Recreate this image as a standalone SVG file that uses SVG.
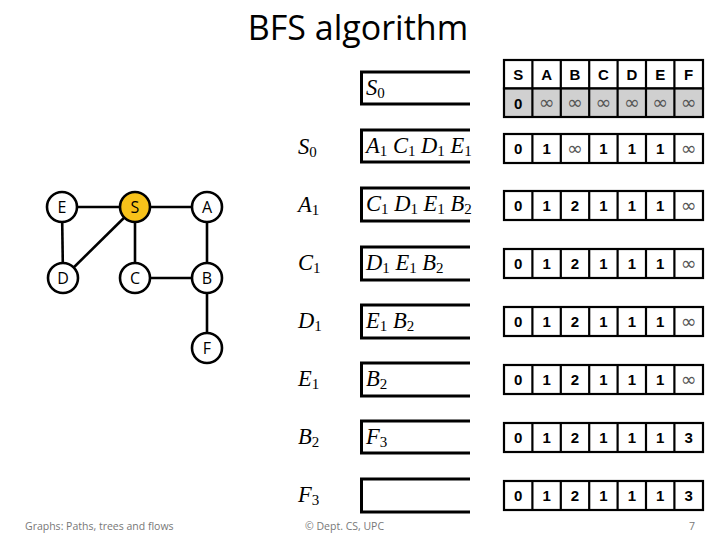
<svg xmlns="http://www.w3.org/2000/svg" width="720" height="540" viewBox="0 0 720 540">
<style>
.title{font-family:"Open Sans","Liberation Sans",sans-serif;font-size:34px;fill:#000}
.node circle{fill:#fff;stroke:#000;stroke-width:2.6}
.node text{font-family:"Open Sans","Liberation Sans",sans-serif;font-size:16px;text-anchor:middle;fill:#000}
.edge{stroke:#000;stroke-width:2.6;fill:none}
.q{fill:none;stroke:#000;stroke-width:3}
.m{font-family:"Liberation Serif","DejaVu Serif",serif;font-style:italic;font-size:22.5px;fill:#000}
.sub{font-size:15px;font-style:normal}
.cell{fill:#fff;stroke:#000;stroke-width:2.2}
.gray{fill:#d0d0d0}
.tv{font-family:"Liberation Sans","DejaVu Sans",sans-serif;font-weight:bold;font-size:15px;text-anchor:middle;fill:#000}
.inf{font-family:"DejaVu Sans",sans-serif;font-size:19px;text-anchor:middle;fill:#555}
.foot{font-family:"Open Sans","Liberation Sans",sans-serif;font-size:10.5px;fill:#777}
</style>
<text class="title" x="358" y="40" text-anchor="middle">BFS algorithm</text>

<g id="connectors">
<line class="edge" x1="62" y1="207" x2="135" y2="207"/>
<line class="edge" x1="135" y1="207" x2="207" y2="207"/>
<line class="edge" x1="62" y1="207" x2="63" y2="278"/>
<line class="edge" x1="135" y1="207" x2="63" y2="278"/>
<line class="edge" x1="135" y1="207" x2="135" y2="278"/>
<line class="edge" x1="135" y1="278" x2="207" y2="278"/>
<line class="edge" x1="207" y1="207" x2="207" y2="278"/>
<line class="edge" x1="207" y1="278" x2="207" y2="348"/>
</g>
<g id="node-E" class="node"><circle cx="62" cy="207" r="15"/><text x="62" y="213">E</text></g>
<g id="node-S" class="node"><circle cx="135" cy="207" r="15" style="fill:#f7c21a"/><text x="135" y="213">S</text></g>
<g id="node-A" class="node"><circle cx="207" cy="207" r="15"/><text x="207" y="213">A</text></g>
<g id="node-D" class="node"><circle cx="63" cy="278" r="15"/><text x="63" y="284">D</text></g>
<g id="node-C" class="node"><circle cx="135" cy="278" r="15"/><text x="135" y="284">C</text></g>
<g id="node-B" class="node"><circle cx="207" cy="278" r="15"/><text x="207" y="284">B</text></g>
<g id="node-F" class="node"><circle cx="207" cy="348" r="15"/><text x="207" y="354">F</text></g>

<g id="queues">
<path class="q" d="M470,72 H361.5 V104 H470"/>
<path class="q" d="M470,130 H361.5 V162 H470"/>
<path class="q" d="M470,188 H361.5 V221 H470"/>
<path class="q" d="M470,247 H361.5 V280 H470"/>
<path class="q" d="M470,305 H361.5 V338 H470"/>
<path class="q" d="M470,363 H361.5 V396 H470"/>
<path class="q" d="M470,421 H361.5 V453 H470"/>
<path class="q" d="M470,479 H361.5 V512 H470"/>
<text class="m" x="366" y="95">S<tspan class="sub" dy="3">0</tspan></text>
<text class="m" x="366" y="153">A<tspan class="sub" dy="3">1</tspan><tspan dy="-3"> C</tspan><tspan class="sub" dy="3">1</tspan><tspan dy="-3"> D</tspan><tspan class="sub" dy="3">1</tspan><tspan dy="-3"> E</tspan><tspan class="sub" dy="3">1</tspan></text>
<text class="m" x="366" y="211">C<tspan class="sub" dy="3">1</tspan><tspan dy="-3"> D</tspan><tspan class="sub" dy="3">1</tspan><tspan dy="-3"> E</tspan><tspan class="sub" dy="3">1</tspan><tspan dy="-3"> B</tspan><tspan class="sub" dy="3">2</tspan></text>
<text class="m" x="366" y="270">D<tspan class="sub" dy="3">1</tspan><tspan dy="-3"> E</tspan><tspan class="sub" dy="3">1</tspan><tspan dy="-3"> B</tspan><tspan class="sub" dy="3">2</tspan></text>
<text class="m" x="366" y="328">E<tspan class="sub" dy="3">1</tspan><tspan dy="-3"> B</tspan><tspan class="sub" dy="3">2</tspan></text>
<text class="m" x="366" y="386">B<tspan class="sub" dy="3">2</tspan></text>
<text class="m" x="366" y="444">F<tspan class="sub" dy="3">3</tspan></text>

<text class="m" x="298" y="154">S<tspan class="sub" dy="3">0</tspan></text>
<text class="m" x="298" y="212">A<tspan class="sub" dy="3">1</tspan></text>
<text class="m" x="298" y="270">C<tspan class="sub" dy="3">1</tspan></text>
<text class="m" x="298" y="328">D<tspan class="sub" dy="3">1</tspan></text>
<text class="m" x="298" y="386">E<tspan class="sub" dy="3">1</tspan></text>
<text class="m" x="298" y="444">B<tspan class="sub" dy="3">2</tspan></text>
<text class="m" x="298" y="502">F<tspan class="sub" dy="3">3</tspan></text>
</g>

<g id="tables">
<rect class="cell" x="504" y="60" width="199" height="28.5"/>
<rect class="cell gray" x="504" y="88.5" width="199" height="28.5"/>
<path stroke="#000" stroke-width="2.2" d="M532.4,60V117M560.8,60V117M589.2,60V117M617.6,60V117M646,60V117M674.4,60V117"/>
<text class="tv" x="518.2" y="80">S</text><text class="tv" x="546.6" y="80">A</text><text class="tv" x="575" y="80">B</text><text class="tv" x="603.4" y="80">C</text><text class="tv" x="631.8" y="80">D</text><text class="tv" x="660.2" y="80">E</text><text class="tv" x="688.6" y="80">F</text>
<text class="tv" x="518.2" y="108.5">0</text><text class="inf" x="546.6" y="109">∞</text><text class="inf" x="575" y="109">∞</text><text class="inf" x="603.4" y="109">∞</text><text class="inf" x="631.8" y="109">∞</text><text class="inf" x="660.2" y="109">∞</text><text class="inf" x="688.6" y="109">∞</text>

<g id="row1">
<rect class="cell" x="504" y="134" width="199" height="29"/>
<path stroke="#000" stroke-width="2.2" d="M532.4,134V163M560.8,134V163M589.2,134V163M617.6,134V163M646,134V163M674.4,134V163"/>
<text class="tv" x="518.2" y="154">0</text><text class="tv" x="546.6" y="154">1</text><text class="inf" x="575" y="154.5">∞</text><text class="tv" x="603.4" y="154">1</text><text class="tv" x="631.8" y="154">1</text><text class="tv" x="660.2" y="154">1</text><text class="inf" x="688.6" y="154.5">∞</text>
</g>
<g id="row2">
<rect class="cell" x="504" y="191" width="199" height="29"/>
<path stroke="#000" stroke-width="2.2" d="M532.4,191V220M560.8,191V220M589.2,191V220M617.6,191V220M646,191V220M674.4,191V220"/>
<text class="tv" x="518.2" y="211">0</text><text class="tv" x="546.6" y="211">1</text><text class="tv" x="575" y="211">2</text><text class="tv" x="603.4" y="211">1</text><text class="tv" x="631.8" y="211">1</text><text class="tv" x="660.2" y="211">1</text><text class="inf" x="688.6" y="211.5">∞</text>
</g>
<g id="row3">
<rect class="cell" x="504" y="249" width="199" height="29"/>
<path stroke="#000" stroke-width="2.2" d="M532.4,249V278M560.8,249V278M589.2,249V278M617.6,249V278M646,249V278M674.4,249V278"/>
<text class="tv" x="518.2" y="269">0</text><text class="tv" x="546.6" y="269">1</text><text class="tv" x="575" y="269">2</text><text class="tv" x="603.4" y="269">1</text><text class="tv" x="631.8" y="269">1</text><text class="tv" x="660.2" y="269">1</text><text class="inf" x="688.6" y="269.5">∞</text>
</g>
<g id="row4">
<rect class="cell" x="504" y="307" width="199" height="29"/>
<path stroke="#000" stroke-width="2.2" d="M532.4,307V336M560.8,307V336M589.2,307V336M617.6,307V336M646,307V336M674.4,307V336"/>
<text class="tv" x="518.2" y="327">0</text><text class="tv" x="546.6" y="327">1</text><text class="tv" x="575" y="327">2</text><text class="tv" x="603.4" y="327">1</text><text class="tv" x="631.8" y="327">1</text><text class="tv" x="660.2" y="327">1</text><text class="inf" x="688.6" y="327.5">∞</text>
</g>
<g id="row5">
<rect class="cell" x="504" y="365" width="199" height="29"/>
<path stroke="#000" stroke-width="2.2" d="M532.4,365V394M560.8,365V394M589.2,365V394M617.6,365V394M646,365V394M674.4,365V394"/>
<text class="tv" x="518.2" y="385">0</text><text class="tv" x="546.6" y="385">1</text><text class="tv" x="575" y="385">2</text><text class="tv" x="603.4" y="385">1</text><text class="tv" x="631.8" y="385">1</text><text class="tv" x="660.2" y="385">1</text><text class="inf" x="688.6" y="385.5">∞</text>
</g>
<g id="row6">
<rect class="cell" x="504" y="423" width="199" height="29"/>
<path stroke="#000" stroke-width="2.2" d="M532.4,423V452M560.8,423V452M589.2,423V452M617.6,423V452M646,423V452M674.4,423V452"/>
<text class="tv" x="518.2" y="443">0</text><text class="tv" x="546.6" y="443">1</text><text class="tv" x="575" y="443">2</text><text class="tv" x="603.4" y="443">1</text><text class="tv" x="631.8" y="443">1</text><text class="tv" x="660.2" y="443">1</text><text class="tv" x="688.6" y="443">3</text>
</g>
<g id="row7">
<rect class="cell" x="504" y="481" width="199" height="29"/>
<path stroke="#000" stroke-width="2.2" d="M532.4,481V510M560.8,481V510M589.2,481V510M617.6,481V510M646,481V510M674.4,481V510"/>
<text class="tv" x="518.2" y="501">0</text><text class="tv" x="546.6" y="501">1</text><text class="tv" x="575" y="501">2</text><text class="tv" x="603.4" y="501">1</text><text class="tv" x="631.8" y="501">1</text><text class="tv" x="660.2" y="501">1</text><text class="tv" x="688.6" y="501">3</text>
</g>
</g>

<text class="foot" x="25" y="530">Graphs: Paths, trees and flows</text>
<text class="foot" x="305" y="530">© Dept. CS, UPC</text>
<text class="foot" x="689" y="530">7</text>
</svg>
